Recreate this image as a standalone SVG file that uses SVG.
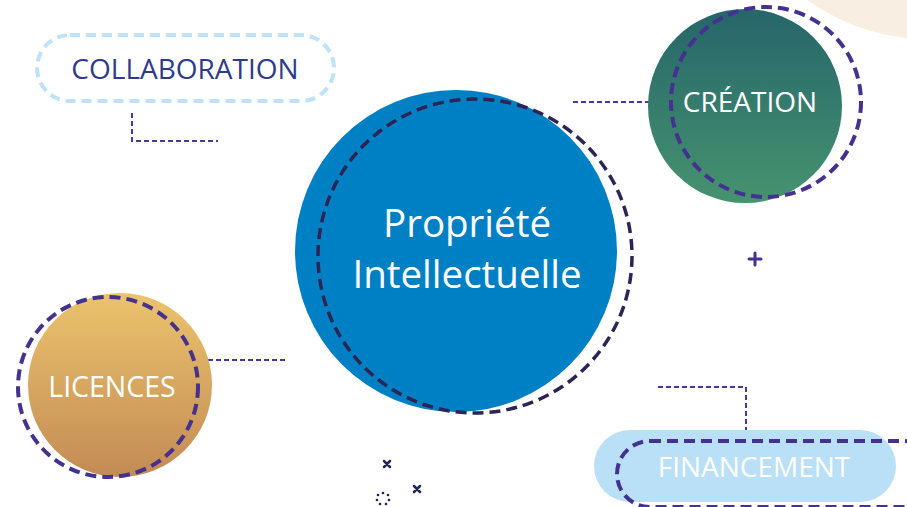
<svg xmlns="http://www.w3.org/2000/svg" width="907" height="507" viewBox="0 0 907 507">
<defs>
<linearGradient id="gGreen" x1="0" y1="0" x2="0" y2="1">
<stop offset="0" stop-color="#26656a"/>
<stop offset="1" stop-color="#46936f"/>
</linearGradient>
<linearGradient id="gGold" x1="0" y1="0" x2="0" y2="1">
<stop offset="0" stop-color="#ebc36d"/>
<stop offset="1" stop-color="#c38b55"/>
</linearGradient>
<style>
.lbl{font-family:"Open Sans","Noto Sans","Liberation Sans",sans-serif;text-anchor:middle}
.w{fill:#ffffff}
.ring{fill:none;stroke:#45318f;stroke-width:4;stroke-dasharray:11 6}
.conn{fill:none;stroke:#4a3a94;stroke-width:2;stroke-dasharray:5 3}
</style>
</defs>
<rect width="907" height="507" fill="#ffffff"/>
<circle cx="928" cy="-168" r="207" fill="#f8efe2"/>
<g id="connectors">
<path class="conn" d="M132,113 V141 H218"/>
<path class="conn" d="M573,102 H660"/>
<path class="conn" d="M200,360 H287"/>
<path class="conn" d="M658,387 H746 V430"/>
</g>
<g id="propriete">
<circle cx="456" cy="251" r="161" fill="#0080c4"/>
<circle cx="475" cy="256" r="157" fill="none" stroke="#2b2455" stroke-width="3.5" stroke-dasharray="11 6"/>
<text class="lbl w" x="467" y="237" font-size="38.5" font-weight="500">Propriété</text>
<text class="lbl w" x="467" y="288" font-size="38.5" font-weight="500">Intellectuelle</text>
</g>
<g id="creation">
<circle cx="745" cy="106" r="97" fill="url(#gGreen)"/>
<circle cx="766" cy="102" r="95" class="ring"/>
<text class="lbl w" x="750" y="112" font-size="28">CRÉATION</text>
</g>
<g id="collaboration">
<rect x="37" y="35" width="297" height="66" rx="33" fill="none" stroke="#bde3f8" stroke-width="4" stroke-dasharray="10 6"/>
<text class="lbl" x="185" y="79" font-size="28" fill="#2e3a8c">COLLABORATION</text>
</g>
<g id="licences">
<circle cx="120" cy="385" r="92" fill="url(#gGold)"/>
<circle cx="108" cy="387" r="90" class="ring"/>
<text class="lbl w" x="112" y="397" font-size="28.5">LICENCES</text>
</g>
<g id="financement">
<rect x="594" y="430" width="302" height="72" rx="36" fill="#b9e0f7"/>
<rect x="617" y="441" width="320" height="66" rx="33" class="ring"/>
<text class="lbl w" x="754" y="477" font-size="28">FINANCEMENT</text>
</g>
<g id="decor" stroke="#1f2459" stroke-width="2.5" stroke-linecap="round" fill="none">
<path d="M749,259 H761 M755,253 V265" stroke="#45318f" stroke-width="3"/>
<path d="M384,461 L390,467 M390,461 L384,467"/>
<path d="M414,486 L420,492 M420,486 L414,492"/>
<g fill="#1f2459" stroke="none">
<circle cx="383" cy="493" r="1.3"/>
<circle cx="388" cy="495" r="1.3"/>
<circle cx="389" cy="500" r="1.3"/>
<circle cx="386" cy="504" r="1.3"/>
<circle cx="380" cy="504" r="1.3"/>
<circle cx="377" cy="500" r="1.3"/>
<circle cx="378" cy="495" r="1.3"/>
</g>
</g>
</svg>
